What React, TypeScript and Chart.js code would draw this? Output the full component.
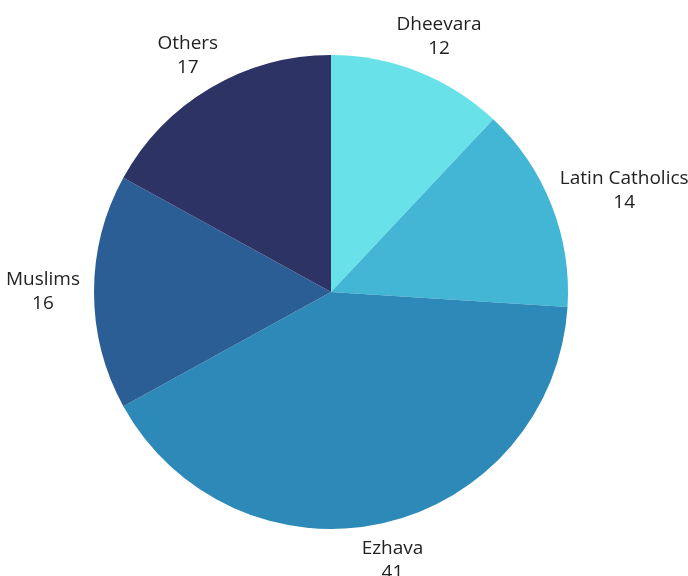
import React, { useEffect, useRef } from "react";
import { Chart, registerables } from "chart.js";

Chart.register(...registerables);

const categories = ["Dheevara", "Latin Catholics", "Ezhava", "Muslims", "Others"];
const values = [12, 14, 41, 16, 17];
const colors = ["#68e2e8", "#43b6d6", "#2d8ab8", "#2b5e94", "#2e3366"];

const FONT = "19px 'Open Sans', sans-serif";
const LINE_H = 24;

const outerLabels = {
  id: "outerLabels",
  afterDatasetsDraw(chart: any) {
    const ctx = chart.ctx;
    const meta = chart.getDatasetMeta(0);
    ctx.save();
    ctx.font = FONT;
    ctx.fillStyle = "#222222";
    ctx.textAlign = "center";
    ctx.textBaseline = "middle";
    meta.data.forEach((arc: any, i: number) => {
      const p = arc.getProps(["x", "y", "startAngle", "endAngle", "outerRadius"], true);
      const mid = (p.startAngle + p.endAngle) / 2;
      const cos = Math.cos(mid);
      const sin = Math.sin(mid);
      const name = String(chart.data.labels[i]);
      const val = String(chart.data.datasets[0].data[i]);
      const w = Math.max(ctx.measureText(name).width, ctx.measureText(val).width);
      const h = LINE_H * 2;
      const r = p.outerRadius + 14;
      const cx = p.x + r * cos + (w / 2) * cos;
      const cy = p.y + r * sin + (h / 2) * sin;
      ctx.fillText(name, cx, cy - LINE_H / 2);
      ctx.fillText(val, cx, cy + LINE_H / 2);
    });
    ctx.restore();
  },
};

export default function App() {
  const ref = useRef<HTMLCanvasElement | null>(null);
  useEffect(() => {
    if (!ref.current) return;
    const chart = new Chart(ref.current, {
      type: "pie",
      data: {
        labels: categories,
        datasets: [
          {
            data: values,
            backgroundColor: colors,
            borderWidth: 0,
          },
        ],
      },
      options: {
        responsive: false,
        animation: false,
        layout: { padding: { left: 94, right: 120, top: 55, bottom: 47 } },
        plugins: {
          legend: { display: false },
          tooltip: { enabled: false },
        },
      },
      plugins: [outerLabels],
    });
    return () => chart.destroy();
  }, []);
  return (
    <div style={{ position: "absolute", left: 0, top: 0, width: 688, height: 576, background: "#ffffff" }}>
      <canvas ref={ref} width={688} height={576} style={{ display: "block" }} />
    </div>
  );
}
